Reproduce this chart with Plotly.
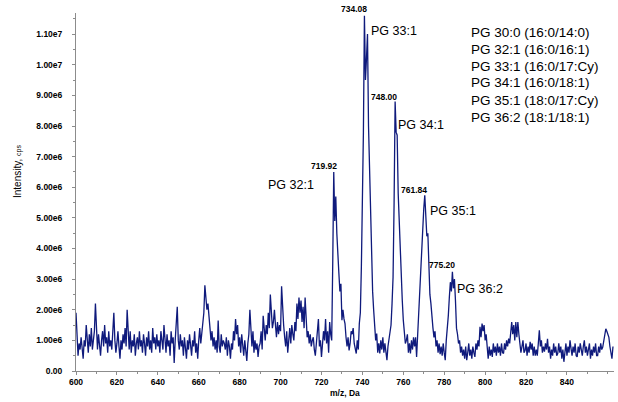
import plotly.graph_objects as go

# ---- data (intensity in millions of cps, sampled every 0.5 Da from 600) ----
mz_start = 600.0
mz_step = 0.5
intensity_millions = [
    # 600
    1.9, 1.2, 0.5, 0.9, 0.7, 1.1, 0.6, 0.4, 1.0, 0.8, 1.5, 0.9, 0.6, 1.2, 0.8, 1.4, 0.7, 1.0, 1.3, 2.2,
    # 610
    1.1, 0.7, 1.2, 0.9, 0.5, 1.0, 1.3, 0.8, 1.5, 0.9, 1.1, 0.6, 1.3, 0.8, 1.0, 0.7, 1.2, 1.9, 1.0, 0.6,
    # 620
    0.9, 1.3, 0.8, 0.4, 1.0, 0.7, 1.2, 0.9, 1.4, 0.8, 2.0, 1.1, 0.7, 1.3, 0.6, 1.0, 0.8, 1.2, 0.5, 0.9,
    # 630
    1.1, 0.7, 1.3, 0.8, 1.0, 0.6, 1.2, 0.9, 0.5, 1.1, 0.8, 1.3, 0.7, 1.0, 0.6, 1.4, 0.9, 1.1, 0.7, 1.2,
    # 640
    0.8, 1.0, 0.6, 1.3, 0.9, 0.7, 1.5, 1.0, 0.6, 1.2, 0.8, 1.0, 0.5, 1.3, 0.9, 1.1, 0.26, 1.0, 1.6, 2.1,
    # 650
    1.0, 0.7, 1.2, 0.8, 1.0, 0.5, 1.1, 0.8, 0.4, 1.0, 0.7, 1.2, 0.9, 0.5, 1.0, 0.8, 1.3, 0.6, 0.9, 0.4,
    # 660
    1.0, 1.4, 0.9, 1.3, 1.6, 1.9, 2.8, 2.3, 2.0, 2.2, 1.6, 1.4, 1.0, 1.3, 0.8, 1.1, 0.7, 1.0, 0.6, 1.65,
    # 670
    0.8, 0.6, 1.2, 0.8, 1.0, 0.9, 0.7, 1.1, 0.5, 1.0, 0.8, 0.4, 0.9, 0.7, 1.3, 1.0, 1.7, 1.2, 1.5, 0.8,
    # 680
    1.1, 0.6, 1.2, 0.9, 0.5, 1.0, 0.7, 0.33, 0.9, 1.2, 2.0, 1.1, 0.8, 1.3, 0.6, 1.0, 0.7, 0.9, 0.46, 0.8,
    # 690
    0.9, 1.3, 0.7, 1.8, 1.2, 1.0, 1.5, 1.2, 1.9, 1.4, 2.5, 1.8, 1.4, 1.6, 2.0, 1.5, 1.1, 1.6, 1.2, 1.5,
    # 700
    1.3, 2.77, 1.9, 1.5, 1.1, 0.8, 1.3, 0.6, 1.0, 1.4, 0.9, 1.5, 1.2, 1.0, 1.6, 1.3, 2.2, 1.7, 2.4, 1.9,
    # 710
    2.3, 1.6, 2.1, 1.4, 2.4, 1.8, 1.1, 1.3, 0.9, 1.2, 0.8, 1.0, 1.1, 0.7, 0.5, 0.9, 1.2, 1.7, 0.8, 1.0,
    # 720
    0.46, 0.9, 1.3, 1.0, 1.7, 0.9, 1.3, 0.6, 1.6, 1.2, 1.0, 3.5, 6.5, 4.9, 5.7, 4.5, 3.6, 3.2, 2.6, 2.85,
    # 730
    1.66, 2.0, 1.7, 1.55, 1.1, 0.8, 1.1, 0.67, 0.9, 1.3, 1.2, 1.4, 0.9, 0.7, 0.57, 1.0, 0.7, 1.55, 1.9, 3.4,
    # 740
    5.5, 7.8, 11.6, 9.5, 10.2, 11.0, 8.0, 6.5, 5.4, 3.4, 2.6, 2.0, 1.4, 1.0, 1.22, 0.6, 0.9, 0.57, 1.0, 0.7,
    # 750
    1.1, 0.6, 0.9, 0.6, 0.35, 0.8, 1.0, 1.2, 1.5, 2.2, 3.07, 5.5, 8.8, 7.8, 7.7, 5.8, 4.8, 3.8, 2.8, 2.3,
    # 760
    1.66, 1.3, 0.9, 1.0, 1.2, 0.6, 0.9, 0.57, 1.0, 0.7, 1.1, 0.8, 1.1, 0.46, 1.2, 1.8, 2.3, 3.0, 4.05, 4.6,
    # 770
    5.3, 5.74, 5.0, 4.4, 4.5, 3.1, 2.5, 2.2, 1.7, 1.4, 1.1, 1.3, 0.8, 1.0, 0.6, 0.9, 0.55, 0.8, 0.5, 0.9,
    # 780
    0.6, 0.35, 1.0, 1.3, 1.8, 2.4, 2.9, 2.6, 3.24, 2.7, 3.0, 2.3, 1.4, 1.2, 0.9, 1.0, 0.6, 0.8, 0.5, 0.7,
    # 790
    0.4, 0.8, 0.35, 0.6, 0.9, 0.5, 0.7, 0.4, 0.8, 0.6, 0.46, 0.9, 0.7, 1.0, 0.8, 1.44, 1.1, 1.55, 1.3, 1.5,
    # 800
    1.0, 1.2, 0.7, 0.4, 0.8, 0.5, 0.7, 0.46, 0.9, 0.6, 0.8, 0.5, 0.9, 0.6, 0.8, 0.5, 0.9, 0.6, 0.57, 0.9,
    # 810
    0.7, 1.0, 0.8, 1.06, 0.9, 1.3, 1.6, 1.2, 1.5, 1.0, 1.6, 1.1, 1.6, 1.2, 0.9, 0.6, 0.8, 1.0, 0.6, 0.67,
    # 820
    0.9, 0.5, 0.8, 0.6, 0.95, 0.7, 0.9, 0.5, 0.8, 0.5, 0.7, 0.5, 0.9, 1.33, 0.8, 1.0, 0.6, 0.8, 0.63, 0.9,
    # 830
    0.7, 1.05, 0.6, 0.8, 0.4, 0.7, 0.5, 0.9, 0.6, 0.8, 0.5, 0.57, 0.9, 0.6, 0.8, 0.4, 0.7, 0.3, 0.6, 0.9,
    # 840
    0.5, 0.8, 0.6, 1.0, 0.73, 0.5, 0.8, 0.6, 0.9, 0.5, 0.46, 0.8, 0.6, 0.9, 0.7, 0.5, 0.8, 1.0, 0.6, 0.8,
    # 850
    0.5, 0.7, 0.9, 0.4, 0.7, 0.5, 0.8, 0.6, 0.9, 0.5, 0.5, 0.8, 0.6, 0.9, 0.7, 0.78, 1.0, 1.2, 1.38, 1.3,
    # 860
    1.2, 1.1, 0.8, 0.6, 0.4, 0.8,
]

mz = [mz_start + mz_step * i for i in range(len(intensity_millions))]
intensity = [v * 1e6 for v in intensity_millions]

y_tick_values = [0, 1e6, 2e6, 3e6, 4e6, 5e6, 6e6, 7e6, 8e6, 9e6, 1e7, 1.1e7]
y_tick_labels = ["0.00", "1.00e6", "2.00e6", "3.00e6", "4.00e6", "5.00e6",
                 "6.00e6", "7.00e6", "8.00e6", "9.00e6", "1.00e7", "1.10e7"]
x_tick_values = [600, 620, 640, 660, 680, 700, 720, 740, 760, 780, 800, 820, 840]

peak_labels = ["719.92", "734.08", "748.00", "761.84", "775.20"]
species_labels = ["PG 32:1", "PG 33:1", "PG 34:1", "PG 35:1", "PG 36:2"]
legend_lines = ["PG 30:0 (16:0/14:0)", "PG 32:1 (16:0/16:1)", "PG 33:1 (16:0/17:Cy)",
                "PG 34:1 (16:0/18:1)", "PG 35:1 (18:0/17:Cy)", "PG 36:2 (18:1/18:1)"]

# ---- layout geometry (page pixels; body margin removed by post_script) ----
W, H = 618, 402
L, R, T, B = 76, 4, 13, 31
pw, ph = W - L - R, H - T - B


def px(x):
    return (x - L) / pw


def py(y):
    return (H - B - y) / ph


FONT = "Liberation Sans, Arial, sans-serif"
LINE = "#0f1a7c"
AX = "#8c8c8c"

fig = go.Figure()
fig.add_trace(go.Scatter(x=mz, y=intensity, mode="lines",
                         line=dict(color=LINE, width=1.3), hoverinfo="skip",
                         showlegend=False))

annotations = []
peak_label_pos = [(323.5, 166), (354, 9), (384, 97), (414, 190), (442.5, 265)]
for t, (x, y) in zip(peak_labels, peak_label_pos):
    annotations.append(dict(text=f"<b>{t}</b>", x=px(x), y=py(y), xref="paper", yref="paper",
                            xanchor="center", yanchor="middle", showarrow=False,
                            font=dict(family=FONT, size=8.5, color="#000")))
species_pos = [(266, 185), (369, 31), (396, 125), (428, 211), (455, 289)]
for t, (x, y) in zip(species_labels, species_pos):
    annotations.append(dict(text=t, x=px(x), y=py(y), xref="paper", yref="paper",
                            xanchor="left", yanchor="middle", showarrow=False,
                            font=dict(family=FONT, size=12.5, color="#000")))
for i, t in enumerate(legend_lines):
    annotations.append(dict(text=t, x=px(469), y=py(32 + 17 * i),
                            xref="paper", yref="paper", xanchor="left", yanchor="middle",
                            showarrow=False, font=dict(family=FONT, size=13.5, color="#000")))
annotations.append(dict(text='Intensity, <span style="font-size:7px">cps</span>',
                        x=px(18), y=py(172), xref="paper", yref="paper",
                        xanchor="center", yanchor="middle", textangle=-90, showarrow=False,
                        font=dict(family=FONT, size=10, color="#000")))
annotations.append(dict(text="<b>m/z, Da</b>", x=px(345), y=py(393), xref="paper", yref="paper",
                        xanchor="center", yanchor="middle", showarrow=False,
                        font=dict(family=FONT, size=8.5, color="#000")))

fig.update_layout(
    width=W, height=H,
    margin=dict(l=L, r=R, t=T, b=B, pad=0),
    paper_bgcolor="white", plot_bgcolor="white",
    annotations=annotations,
    showlegend=False,
)
fig.update_xaxes(range=[600, 863], tickmode="array", tickvals=x_tick_values,
                 ticktext=[f"<b>{v}</b>" for v in x_tick_values],
                 showgrid=False, zeroline=False, showline=True, linecolor=AX, linewidth=1,
                 ticks="outside", ticklen=3, tickcolor=AX,
                 minor=dict(dtick=10, tick0=600, ticks="outside", ticklen=2, tickcolor=AX),
                 tickfont=dict(family=FONT, size=8.5, color="#000"))
fig.update_yaxes(range=[0, 1.169e7], tickmode="array", tickvals=y_tick_values,
                 ticktext=[f"<b>{t}</b>" for t in y_tick_labels],
                 showgrid=False, zeroline=False, showline=True, linecolor=AX, linewidth=1,
                 ticks="outside", ticklen=3, tickcolor=AX, ticklabelstandoff=8,
                 minor=dict(dtick=5e5, tick0=0, ticks="outside", ticklen=2, tickcolor=AX),
                 tickfont=dict(family=FONT, size=8.5, color="#000"))

fig.write_html("out.html",
               config={"displayModeBar": False, "staticPlot": True},
               post_script="document.body.style.margin='0';document.body.style.overflow='hidden';")
